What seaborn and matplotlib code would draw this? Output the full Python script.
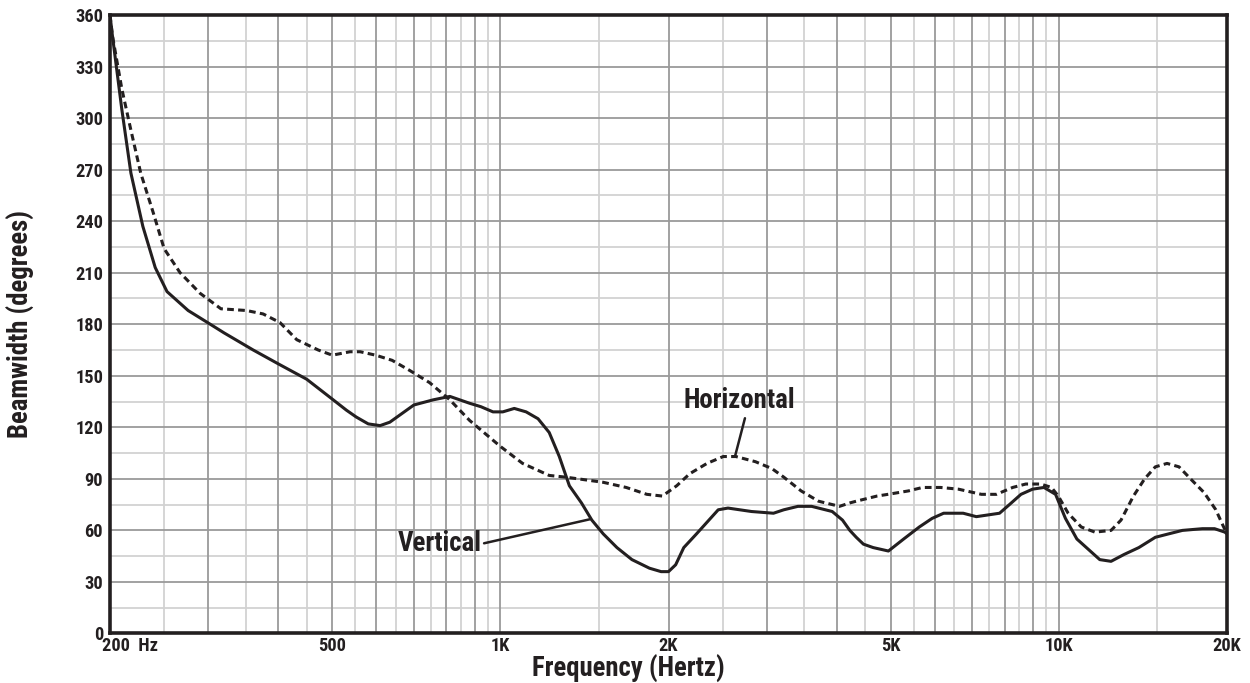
import numpy as np
import matplotlib
matplotlib.use("Agg")
import matplotlib.pyplot as plt
import matplotlib.transforms as mtransforms
from matplotlib import font_manager as fm
from matplotlib.ticker import NullFormatter
import seaborn as sns

# Vertical beamwidth (solid)
vert_freq = [200, 202, 210, 218, 229, 241, 253, 276, 299, 320, 361, 400, 450, 502,
             530, 552, 580, 609, 634, 700, 758, 812, 881, 923, 970, 1010, 1059, 1112,
             1168, 1223, 1275, 1329, 1397, 1458, 1528, 1617, 1720, 1849, 1940, 2000,
             2060, 2130, 2245, 2455, 2556, 2816, 3083, 3217, 3410, 3609, 3928, 4098,
             4224, 4337, 4467, 4651, 4952, 5274, 5625, 5930, 6218, 6740, 7115, 7830,
             8154, 8554, 8970, 9404, 9864, 10274, 10770, 11290, 11836, 12400, 13085,
             13903, 14885, 15730, 16640, 18070, 19000, 19820, 20000]
vert_deg = [360, 348, 305, 268, 237, 213, 199, 188, 181, 175, 165, 157, 148, 136,
            130, 126, 122, 121, 123, 133, 136, 138, 134, 132, 129, 129, 131, 129,
            125, 117, 103, 86, 76, 66, 58, 50, 43, 38, 36, 36,
            40, 50, 58, 72, 73, 71, 70, 72, 74, 74, 71, 66,
            60, 56, 52, 50, 48, 55, 62, 67, 70, 70, 68, 70,
            75, 81, 84, 85, 81, 67, 55, 49, 43, 42, 46,
            50, 56, 58, 60, 61, 61, 59, 58]

# Horizontal beamwidth (dashed)
horz_freq = [200, 202, 210, 218, 227, 239, 250, 267, 290, 316, 351, 376, 403, 432,
             472, 500, 538, 561, 598, 640, 689, 747, 812, 881, 999, 1096, 1223, 1310,
             1528, 1680, 1829, 1950, 2069, 2183, 2344, 2506, 2640, 2862, 3063, 3217,
             3455, 3712, 4047, 4224, 4337, 4726, 4944, 5380, 5700, 6140, 6610, 7265,
             7730, 8265, 8725, 9280, 9700, 9975, 10390, 10965, 11600, 12400, 12920,
             13600, 14240, 14885, 15620, 16410, 17330, 18200, 19100, 19660, 20000]
horz_deg = [360, 348, 317, 293, 268, 245, 224, 210, 198, 189, 188, 186, 181, 171,
            165, 162, 164, 164, 162, 159, 153, 146, 136, 124, 109, 99, 92, 91,
            88, 85, 81, 80, 86, 93, 99, 103, 103, 100, 96, 91,
            83, 77, 74, 76, 77, 80, 81, 83, 85, 85, 84, 81,
            81, 85, 87, 87, 85, 80, 70, 62, 59, 60, 66,
            80, 90, 97, 99, 97, 89, 82, 72, 63, 58]

x_tick_pos = [200, 500, 1000, 2000, 5000, 10000, 20000]
x_tick_labels = ["200  Hz", "500", "1K", "2K", "5K", "10K", "20K"]
y_ticks = list(range(0, 361, 30))

INK = "#231f20"

# pick the narrowest bold face we can find
installed = {f.name for f in fm.fontManager.ttflist}
condensed = False
face = None
for cand in ["Liberation Sans Narrow", "DejaVu Sans Condensed", "Roboto Condensed",
             "Open Sans Condensed", "Noto Sans Condensed"]:
    if cand in installed:
        face, condensed = cand, True
        break
if face is None:
    if any(f.name == "DejaVu Sans" and f.stretch == "condensed" for f in fm.fontManager.ttflist):
        face, condensed = "DejaVu Sans", True
    elif "Roboto" in installed:
        face = "Roboto"
    else:
        face = "Liberation Sans"
FONT = [face, "DejaVu Sans"]
STRETCH = "condensed" if condensed else "normal"
k = 1.12 if condensed else 1.0
TICK_FS, AXIS_FS, NOTE_FS = 11.8 * k, 17.2 * k, 17.3 * k

sns.set_style("white")
plt.rcParams["font.family"] = FONT
plt.rcParams["font.weight"] = "bold"
plt.rcParams["font.stretch"] = STRETCH

fig = plt.figure(figsize=(12.5, 6.83), dpi=100)
ax = fig.add_axes([0.088, 0.0725, 0.8936, 0.9055])

sns.lineplot(x=vert_freq, y=vert_deg, ax=ax, sort=False, estimator=None,
             color=INK, linewidth=2.2, zorder=5)
sns.lineplot(x=horz_freq, y=horz_deg, ax=ax, sort=False, estimator=None,
             color=INK, linewidth=2.2, linestyle=(0, (2.2, 1.4)),
             dash_capstyle="butt", zorder=5)

ax.set_xscale("log")
ax.set_xlim(200, 20000)
ax.set_ylim(0, 360)

# frequency grid: darker every 100 / 1000, lighter at the half steps
dark_x = list(np.arange(300, 1000, 100)) + list(np.arange(1000, 10001, 1000))
light_x = list(np.arange(250, 1000, 100)) + list(np.arange(1500, 10000, 1000)) + [15000]
for xv in dark_x:
    ax.axvline(xv, color="#9a9a9a", lw=1.3, zorder=1)
for xv in light_x:
    ax.axvline(xv, color="#d2d2d2", lw=1.3, zorder=0.5)
for yv in range(30, 360, 30):
    ax.axhline(yv, color="#9a9a9a", lw=1.3, zorder=1)
for yv in range(15, 360, 30):
    ax.axhline(yv, color="#d2d2d2", lw=1.3, zorder=0.5)

ax.set_xticks(x_tick_pos)
ax.set_xticklabels(x_tick_labels)
ax.xaxis.set_minor_formatter(NullFormatter())
ax.set_xticks([], minor=True)
ax.set_yticks(y_ticks)
ax.set_yticklabels([str(v) for v in y_ticks])
ax.tick_params(axis="both", length=0, labelsize=TICK_FS, colors=INK)
ax.tick_params(axis="x", pad=2.5)
ax.tick_params(axis="y", pad=5)
for lab in ax.get_xticklabels() + ax.get_yticklabels():
    lab.set_fontweight("bold")
    lab.set_family(FONT)
    lab.set_stretch(STRETCH)

first = ax.get_xticklabels()[0]
first.set_horizontalalignment("left")
first.set_transform(first.get_transform() +
                    mtransforms.ScaledTranslation(-8 / 100, 0, fig.dpi_scale_trans))

for side in ax.spines.values():
    side.set_color(INK)
    side.set_linewidth(2.6)
    side.set_zorder(10)

ax.set_xlabel("Frequency (Hertz)", fontsize=AXIS_FS, fontweight="bold", color=INK,
              fontstretch=STRETCH)
ax.xaxis.set_label_coords(0.464, -0.035)
ax.xaxis.label.set_verticalalignment("top")
ax.set_ylabel("Beamwidth (degrees)", fontsize=AXIS_FS, fontweight="bold", color=INK,
              fontstretch=STRETCH)
ax.yaxis.set_label_coords(-0.067, 0.5)

# callouts
ax.text(2674, 135.5, "Horizontal", fontsize=NOTE_FS, fontweight="bold", color=INK,
        ha="center", va="center", fontstretch=STRETCH, zorder=6)
ax.plot([2741, 2630], [125.3, 102.9], color=INK, lw=1.8, zorder=6)
ax.text(778, 52.5, "Vertical", fontsize=NOTE_FS, fontweight="bold", color=INK,
        ha="center", va="center", fontstretch=STRETCH, zorder=6)
ax.plot([935, 1447], [52.5, 66.5], color=INK, lw=1.8, zorder=6)

fig.savefig("out.png", dpi=100)
